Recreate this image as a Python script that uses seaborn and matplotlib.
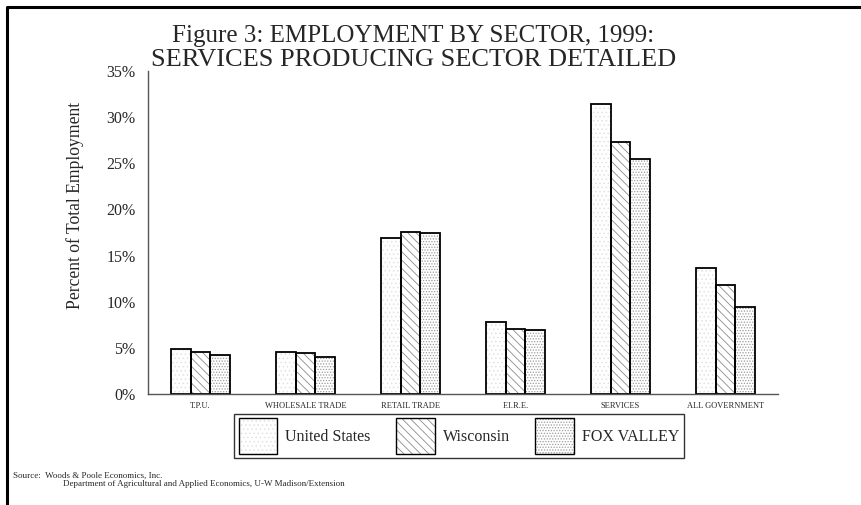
import matplotlib
matplotlib.use("Agg")
import matplotlib.pyplot as plt
import matplotlib.patches as mpatches
from matplotlib.legend_handler import HandlerTuple
import seaborn as sns
import pandas as pd

# Employment shares by sector, 1999 (percent of total employment)
sectors = ["T.P.U.", "WHOLESALE TRADE", "RETAIL TRADE", "F.I.R.E.", "SERVICES", "ALL GOVERNMENT"]
regions = ["United States", "Wisconsin", "FOX VALLEY"]
us_share = [4.9, 4.6, 16.9, 7.8, 31.4, 13.7]
wi_share = [4.6, 4.4, 17.6, 7.0, 27.3, 11.8]
fv_share = [4.2, 4.0, 17.4, 6.9, 25.5, 9.4]
y_ticks = [0, 5, 10, 15, 20, 25, 30, 35]
y_tick_labels = ["0%", "5%", "10%", "15%", "20%", "25%", "30%", "35%"]

df = pd.DataFrame({
    "sector": sectors * 3,
    "region": [regions[0]] * 6 + [regions[1]] * 6 + [regions[2]] * 6,
    "share": us_share + wi_share + fv_share,
})

sns.set_theme(style="white")
plt.rcParams["font.family"] = ["Liberation Serif", "DejaVu Serif"]
plt.rcParams["hatch.linewidth"] = 0.6

fig = plt.figure(figsize=(8.61, 5.05), dpi=100)
fig.patch.set_facecolor("white")
ax = fig.add_axes([148 / 861, 1 - 394 / 505, 630 / 861, 323 / 505])

sns.barplot(data=df, x="sector", y="share", hue="region", order=sectors,
            hue_order=regions, width=0.556, gap=0, palette=["white"] * 3,
            legend=False, ax=ax)

hatches = {"United States": "....", "Wisconsin": "\\\\\\\\", "FOX VALLEY": "......"}
hatch_colors = {"United States": "#e2e2e2", "Wisconsin": "#8c8c8c", "FOX VALLEY": "#9c9c9c"}

# hatch fill in gray, then a crisp black outline on top of each bar
for container, reg in zip(ax.containers, regions):
    for bar in container:
        bar.set_hatch(hatches[reg])
        bar.set_edgecolor(hatch_colors[reg])
        bar.set_linewidth(0)
        ax.add_patch(mpatches.Rectangle(bar.get_xy(), bar.get_width(), bar.get_height(),
                                        fill=False, edgecolor="black", linewidth=1.3,
                                        zorder=bar.get_zorder() + 0.1))

ax.set_xlim(-0.5, len(sectors) - 0.5)
ax.set_ylim(0, 35)
ax.set_yticks(y_ticks)
ax.set_yticklabels(y_tick_labels, fontsize=11.5)
ax.tick_params(axis="y", direction="in", length=0, width=0.8, color="#555555", pad=9)
top_tick = ax.yaxis.get_major_ticks()[-1]
top_tick.tick1line.set_markersize(8)
ax.set_xticks(range(len(sectors)))
ax.set_xticklabels(sectors, fontsize=6.0)
ax.set_xticks([i - 0.5 for i in range(len(sectors) + 1)], minor=True)
ax.tick_params(axis="x", which="major", length=0, pad=6)
ax.tick_params(axis="x", which="minor", direction="inout", length=10, width=0.8, color="#666666")
ax.set_xlabel("")
ax.set_ylabel("Percent of Total Employment", fontsize=12.7)
ax.yaxis.set_label_coords(-0.101, 0.585)

for side in ["top", "right"]:
    ax.spines[side].set_visible(False)
for side in ["left", "bottom"]:
    ax.spines[side].set_color("#555555")
    ax.spines[side].set_linewidth(1.0)

# Title
fig.text(0.48, 1 - 42 / 505, "Figure 3: EMPLOYMENT BY SECTOR, 1999:", ha="center",
         va="baseline", fontsize=18)
fig.text(0.48, 1 - 66 / 505, "SERVICES PRODUCING SECTOR DETAILED", ha="center",
         va="baseline", fontsize=19)

# Legend
handles = []
for reg in regions:
    fill = mpatches.Patch(facecolor="white", edgecolor=hatch_colors[reg], hatch=hatches[reg], linewidth=0)
    outline = mpatches.Patch(facecolor="none", edgecolor="black", linewidth=1.0)
    handles.append((fill, outline))
leg = fig.legend(handles, regions, loc="center", bbox_to_anchor=(459 / 861, 1 - 436 / 505),
                 ncol=3, fontsize=11.5, handlelength=2.4, handleheight=3.0,
                 handletextpad=0.5, columnspacing=1.6, borderpad=0.3,
                 frameon=True, fancybox=False, edgecolor="black",
                 handler_map={tuple: HandlerTuple(ndivide=1, pad=0)})
leg.get_frame().set_linewidth(1.0)

# Source note
fig.text(13 / 861, 1 - 478 / 505, "Source:  Woods & Poole Economics, Inc.", fontsize=6.5, va="baseline")
fig.text(63 / 861, 1 - 486 / 505, "Department of Agricultural and Applied Economics, U-W Madison/Extension",
         fontsize=6.5, va="baseline")

# Page frame
fig.add_artist(plt.Line2D([7 / 861, 7 / 861, 1.0], [0.0, 1 - 7 / 505, 1 - 7 / 505],
                          transform=fig.transFigure, color="black", linewidth=2.2))

fig.savefig("out.png", dpi=100)
